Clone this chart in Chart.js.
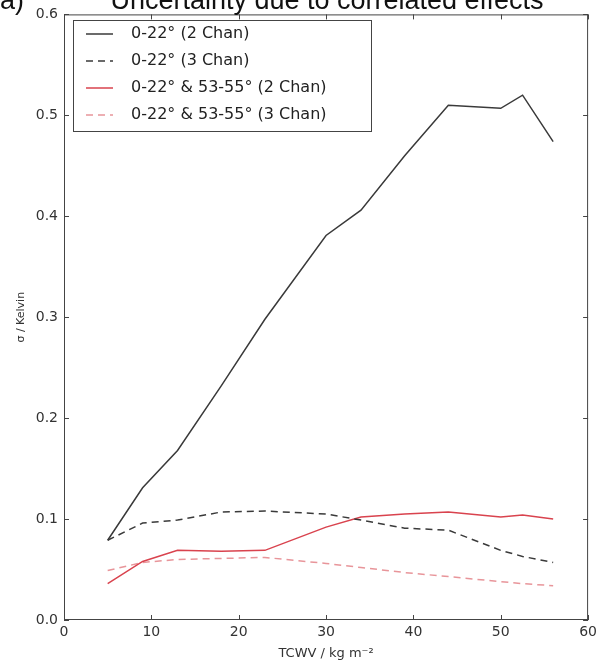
<!DOCTYPE html>
<html>
<head>
<meta charset="utf-8">
<script src="https://cdn.jsdelivr.net/npm/chart.js@4.4.1/dist/chart.umd.min.js"></script>
<style>
  html, body { margin: 0; padding: 0; background: #fff; }
  #wrap { width: 601px; height: 664px; }
</style>
</head>
<body>
<div id="wrap"><canvas id="c" width="601" height="664"></canvas></div>
<script>
// TCWV bins (kg m^-2) and sigma (K)
const tcwv = [5, 9, 13, 18, 23, 30, 34, 39, 44, 50, 52.5, 56];
const nadir2 = [0.079, 0.131, 0.168, 0.232, 0.298, 0.381, 0.406, 0.460, 0.510, 0.507, 0.520, 0.474];
const nadir3 = [0.079, 0.096, 0.099, 0.107, 0.108, 0.105, 0.099, 0.091, 0.089, 0.069, 0.063, 0.057];
const dual2  = [0.036, 0.058, 0.069, 0.068, 0.069, 0.092, 0.102, 0.105, 0.107, 0.102, 0.104, 0.100];
const dual3  = [0.049, 0.057, 0.060, 0.061, 0.062, 0.056, 0.052, 0.047, 0.043, 0.038, 0.036, 0.034];
const labels = ['0-22° (2 Chan)', '0-22° (3 Chan)', '0-22° & 53-55° (2 Chan)', '0-22° & 53-55° (3 Chan)'];
const xTicks = [0, 10, 20, 30, 40, 50, 60];
const yTicks = [0, 0.1, 0.2, 0.3, 0.4, 0.5, 0.6];

const FONT = '"DejaVu Sans", sans-serif';
const BLACK = '#3a3a3a';
const RED = '#d9434e';
const PINK = '#e8959a';

function pts(ys) { return tcwv.map((x, i) => ({ x, y: ys[i] })); }

// cuadro + ticks hacia adentro, estilo matplotlib
const frame = {
  id: 'frame',
  afterDatasetsDraw(chart) {
    const { ctx, chartArea: a, scales: { x, y } } = chart;
    ctx.save();
    ctx.strokeStyle = '#444';
    ctx.lineWidth = 1;
    ctx.strokeRect(a.left + 0.5, a.top + 0.5, a.right - a.left - 1, a.bottom - a.top - 1);
    ctx.beginPath();
    xTicks.forEach((v) => {
      const px = Math.round(x.getPixelForValue(v)) + 0.5;
      ctx.moveTo(px, a.bottom); ctx.lineTo(px, a.bottom - 5);
      ctx.moveTo(px, a.top); ctx.lineTo(px, a.top + 5);
    });
    yTicks.forEach((v) => {
      const py = Math.round(y.getPixelForValue(v)) + 0.5;
      ctx.moveTo(a.left, py); ctx.lineTo(a.left + 5, py);
      ctx.moveTo(a.right, py); ctx.lineTo(a.right - 5, py);
    });
    ctx.stroke();
    ctx.restore();
  },
};

// leyenda dentro del área, arriba a la izquierda
const boxLegend = {
  id: 'boxLegend',
  afterDraw(chart) {
    const { ctx } = chart;
    ctx.save();
    ctx.fillStyle = '#fff';
    ctx.fillRect(73, 20, 298, 111);
    ctx.strokeStyle = '#444';
    ctx.lineWidth = 1;
    ctx.strokeRect(73.5, 20.5, 298, 111);
    chart.data.datasets.forEach((ds, i) => {
      const yy = 34 + i * 27;
      ctx.beginPath();
      ctx.strokeStyle = ds.borderColor;
      ctx.lineWidth = ds.borderWidth;
      ctx.setLineDash(ds.borderDash || []);
      ctx.moveTo(86, yy); ctx.lineTo(113, yy);
      ctx.stroke();
      ctx.setLineDash([]);
      ctx.fillStyle = '#222';
      ctx.font = '16px ' + FONT;
      ctx.textBaseline = 'middle';
      ctx.textAlign = 'left';
      ctx.fillText(ds.label, 131, yy);
    });
    ctx.restore();
  },
};

// título cortado arriba, como en la figura original
const topTitle = {
  id: 'topTitle',
  afterDraw(chart) {
    const { ctx } = chart;
    ctx.save();
    ctx.fillStyle = '#111';
    ctx.font = '27px "Liberation Sans", Arial, sans-serif';
    ctx.textBaseline = 'alphabetic';
    ctx.textAlign = 'left';
    ctx.fillText('a)', 0, 9);
    ctx.textAlign = 'center';
    ctx.fillText('Uncertainty due to correlated effects', 327, 9);
    ctx.restore();
  },
};

new Chart(document.getElementById('c'), {
  type: 'line',
  data: {
    datasets: [
      { label: labels[0], data: pts(nadir2), borderColor: BLACK, borderWidth: 1.5 },
      { label: labels[1], data: pts(nadir3), borderColor: BLACK, borderWidth: 1.5, borderDash: [7, 5] },
      { label: labels[2], data: pts(dual2), borderColor: RED, borderWidth: 1.5 },
      { label: labels[3], data: pts(dual3), borderColor: PINK, borderWidth: 1.5, borderDash: [7, 5] },
    ],
  },
  options: {
    responsive: false,
    animation: false,
    devicePixelRatio: 1,
    elements: { point: { radius: 0 }, line: { tension: 0 } },
    layout: { padding: { top: 12, right: 9, left: 0, bottom: 0 } },
    plugins: { legend: { display: false }, tooltip: { enabled: false } },
    scales: {
      x: {
        type: 'linear',
        min: 0, max: 60,
        afterBuildTicks: (s) => { s.ticks = xTicks.map((v) => ({ value: v })); },
        afterFit: (s) => { s.height = 44; },
        grid: { display: false, drawTicks: false },
        border: { display: false },
        ticks: { color: '#333', font: { family: FONT, size: 14 }, padding: 4, maxRotation: 0 },
        title: { display: true, text: 'TCWV / kg m⁻²', color: '#333', font: { family: FONT, size: 13 }, padding: { top: 0, bottom: 3 } },
      },
      y: {
        min: 0, max: 0.6,
        afterBuildTicks: (s) => { s.ticks = yTicks.map((v) => ({ value: v })); },
        afterFit: (s) => { s.width = 64; },
        grid: { display: false, drawTicks: false },
        border: { display: false },
        ticks: { color: '#333', font: { family: FONT, size: 14 }, padding: 6, callback: (v) => v.toFixed(1) },
        title: { display: true, text: 'σ / Kelvin', color: '#333', font: { family: FONT, size: 11 }, padding: { top: 15, bottom: 0 } },
      },
    },
  },
  plugins: [frame, boxLegend, topTitle],
});
</script>
</body>
</html>
